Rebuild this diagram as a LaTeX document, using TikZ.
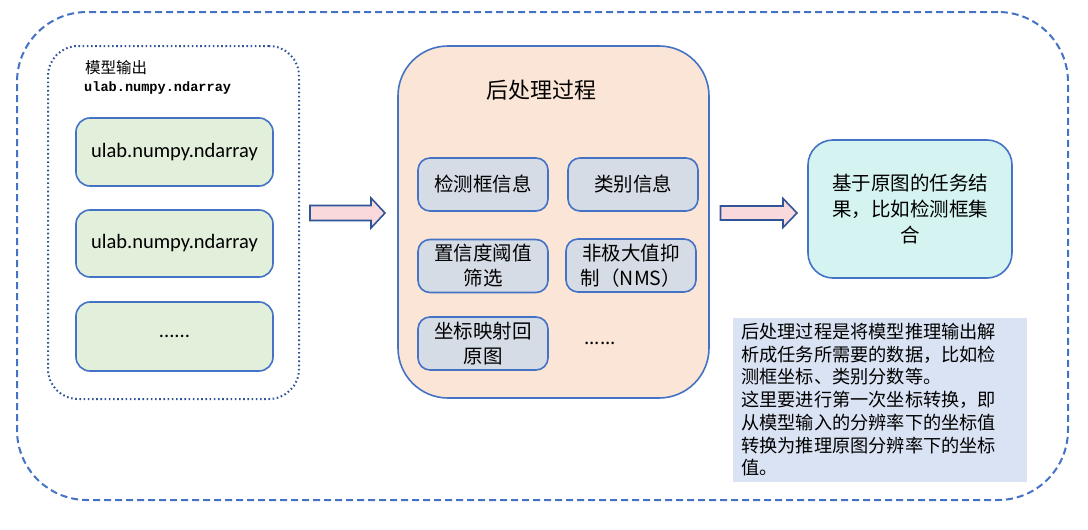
\documentclass[tikz,border=0pt]{standalone}
\usepackage{fontspec}
\newfontfamily\cjk{Noto Sans CJK SC}
\newfontfamily\cali{Carlito}
\newfontfamily\monob{Liberation Mono}
\definecolor{bblue}{HTML}{4472C4}
\definecolor{dblue}{HTML}{2F5597}
\definecolor{gfill}{HTML}{E2EFDA}
\definecolor{ofill}{HTML}{FBE5D6}
\definecolor{ifill}{HTML}{D6DCE5}
\definecolor{cfill}{HTML}{D5F4F1}
\definecolor{nfill}{HTML}{DAE3F3}
\definecolor{afill}{HTML}{F9D9DC}
\tikzset{
  greenbox/.style={draw=bblue, line width=1.6pt, fill=gfill, rounded corners=14pt, minimum width=197pt, minimum height=68pt, inner sep=0pt, font=\cali\fontsize{20.5}{24}\selectfont},
  innerbox/.style={draw=bblue, line width=1.6pt, fill=ifill, rounded corners=12pt, minimum width=130pt, minimum height=53pt, inner sep=0pt, align=center, font=\cjk\fontsize{19.5}{25}\selectfont},
  blockarrow/.style={draw=dblue, line width=1.6pt, fill=afill, line join=miter},
}
\begin{document}
\begin{tikzpicture}[x=1pt,y=-1pt]
\useasboundingbox (0,0) rectangle (1088,530);
% outer dashed frame
\node[draw=bblue, line width=2pt, dash pattern=on 7pt off 4pt, rounded corners=70pt, minimum width=1051pt, minimum height=488pt] (outer) at (542.5,256) {};
% dotted model output group
\node[draw=dblue, line width=2pt, dash pattern=on 1.6pt off 2.6pt, rounded corners=30pt, minimum width=251pt, minimum height=353pt] (grp) at (173.5,222.5) {};
\node[anchor=west, inner sep=0pt, font=\cjk\fontsize{15.5}{18}\selectfont] (grpt) at (85,68) {模型输出};
\node[anchor=west, inner sep=0pt, font=\monob\bfseries\fontsize{13.6}{16}\selectfont] (grpm) at (84,88) {ulab.numpy.ndarray};
\node[greenbox] (g1) at (174.5,152) {ulab.numpy.ndarray};
\node[greenbox, minimum height=67pt] (g2) at (174.5,243.5) {ulab.numpy.ndarray};
\node[greenbox, minimum height=69pt] (g3) at (174.5,336.5) {......};
% middle post-processing box
\node[draw=bblue, line width=1.6pt, fill=ofill, rounded corners=50pt, minimum width=311pt, minimum height=352pt] (mid) at (553.5,222) {};
\node[font=\cjk\fontsize{22}{26}\selectfont, inner sep=0pt] (midt) at (541,90) {后处理过程};
\node[innerbox] (b1) at (483,184.5) {检测框信息};
\node[innerbox] (b2) at (633,184.5) {类别信息};
\node[innerbox] (b3) at (483,266) {置信度阈值\\筛选};
\node[innerbox] (b4) at (631,265.5) {非极大值抑\\制（NMS）};
\node[innerbox] (b5) at (483,343.5) {坐标映射回\\原图};
\node[font=\cjk\fontsize{19}{22}\selectfont, inner sep=0pt] (bdots) at (600,343) {......};
% result box
\node[draw=bblue, line width=1.6pt, fill=cfill, rounded corners=25pt, minimum width=204pt, minimum height=138pt, align=center, font=\cjk\fontsize{19.5}{26}\selectfont] (res) at (910,209) {基于原图的任务结\\果，比如检测框集\\合};
% note
\node[fill=nfill, minimum width=294pt, minimum height=164pt, inner sep=0pt] (note) at (880,400) {};
\node[anchor=north west, inner sep=0pt, align=left, font=\cjk\fontsize{18.2}{22.7}\selectfont] (notet) at (741,323) {后处理过程是将模型推理输出解\\析成任务所需要的数据，比如检\\测框坐标、类别分数等。\\这里要进行第一次坐标转换，即\\从模型输入的分辨率下的坐标值\\转换为推理原图分辨率下的坐标\\值。};
% block arrows
\draw[blockarrow] (310,205.5) -- (371,205.5) -- (371,198) -- (385,213) -- (371,228) -- (371,220.5) -- (310,220.5) -- cycle;
\draw[blockarrow] (720.5,206) -- (783,206) -- (783,198.5) -- (797,213) -- (783,227.5) -- (783,220) -- (720.5,220) -- cycle;
\end{tikzpicture}
\end{document}
